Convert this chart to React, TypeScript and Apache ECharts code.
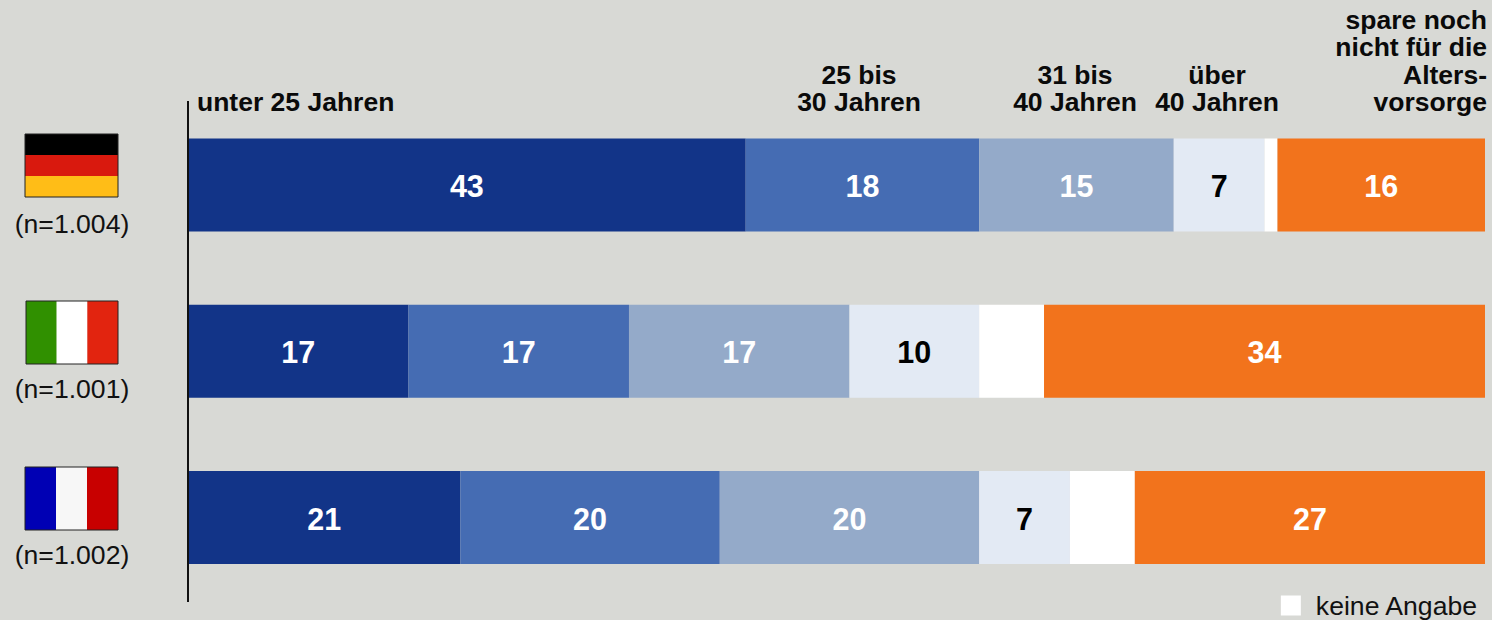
import React, { useEffect, useRef } from "react";
import * as echarts from "echarts";

const countries = ["Deutschland", "Italien", "Frankreich"];
const sampleLabels = ["(n=1.004)", "(n=1.001)", "(n=1.002)"];
const under25 = [43, 17, 21];
const from25to30 = [18, 17, 20];
const from31to40 = [15, 17, 20];
const over40 = [7, 10, 7];
const noAnswer = [1, 5, 5];
const notSaving = [16, 34, 27];

const BG = "#d8d9d5";
const FONT = "'Liberation Sans', Arial, sans-serif";

function stripesH(x: number, y: number, w: number, h: number, colors: string[]) {
  const sh = h / colors.length;
  return colors.map((c, i) => ({
    type: "rect", shape: { x, y: y + i * sh, width: w, height: sh }, style: { fill: c }, silent: true,
  }));
}
function stripesV(x: number, y: number, w: number, h: number, colors: string[]) {
  const sw = w / colors.length;
  return colors.map((c, i) => ({
    type: "rect", shape: { x: x + i * sw, y, width: sw, height: h }, style: { fill: c }, silent: true,
  }));
}
function frame(x: number, y: number, w: number, h: number) {
  return { type: "rect", shape: { x, y, width: w, height: h }, style: { fill: "none", stroke: "#222", lineWidth: 1 }, silent: true };
}
function header(text: string, x: number, y: number, align: string) {
  return {
    type: "text", x, y,
    style: { text, fill: "#0a0a0a", font: `bold 26.5px ${FONT}`, align, verticalAlign: "bottom", lineHeight: 27.5 },
    silent: true,
  };
}
function nLabel(text: string, y: number) {
  return {
    type: "text", x: 72, y,
    style: { text, fill: "#111", font: `26.6px ${FONT}`, align: "center", verticalAlign: "middle" },
    silent: true,
  };
}

function seg(name: string, data: number[], color: string, labelColor: string | null) {
  return {
    name, type: "bar", stack: "total", data, barWidth: 93,
    itemStyle: { color },
    label: labelColor
      ? { show: true, position: "inside", offset: [0, 1], color: labelColor, fontFamily: FONT, fontWeight: "bold", fontSize: 30.5 }
      : { show: false },
  };
}

export default function App() {
  const ref = useRef<HTMLDivElement>(null);
  useEffect(() => {
    document.body.style.margin = "0";
    document.body.style.background = BG;
    const chart = echarts.init(ref.current!, null, { renderer: "svg" });
    chart.setOption({
      animation: false,
      backgroundColor: BG,
      textStyle: { fontFamily: FONT },
      grid: { left: 188, right: 7, top: 101.9, height: 498.75, containLabel: false },
      xAxis: { type: "value", min: 0, max: 100, show: false },
      yAxis: {
        type: "category", inverse: true, data: countries,
        axisLine: { show: false }, axisTick: { show: false }, axisLabel: { show: false }, splitLine: { show: false },
      },
      legend: {
        data: ["keine Angabe"], right: 13.5, top: 592, icon: "rect", itemWidth: 20, itemHeight: 20, itemGap: 15, padding: 0,
        selectedMode: false,
        textStyle: { color: "#111", fontSize: 26.6, fontFamily: FONT, padding: [1, 0, 0, 10] },
      },
      series: [
        seg("unter 25 Jahren", under25, "#123488", "#ffffff"),
        seg("25 bis 30 Jahren", from25to30, "#456cb3", "#ffffff"),
        seg("31 bis 40 Jahren", from31to40, "#94aac9", "#ffffff"),
        seg("über 40 Jahren", over40, "#e3eaf4", "#000000"),
        seg("keine Angabe", noAnswer, "#ffffff", null),
        seg("spare noch nicht für die Altersvorsorge", notSaving, "#f2731c", "#ffffff"),
      ],
      graphic: [
        { type: "line", shape: { x1: 188, y1: 101, x2: 188, y2: 602 }, style: { stroke: "#111", lineWidth: 2 }, silent: true, z: 10 },
        header("unter 25 Jahren", 197, 116, "left"),
        header("25 bis\n30 Jahren", 859, 116, "center"),
        header("31 bis\n40 Jahren", 1075, 116, "center"),
        header("über\n40 Jahren", 1217, 116, "center"),
        header("spare noch\nnicht für die\nAlters-\nvorsorge", 1487, 116, "right"),
        ...stripesH(25, 134, 93, 63, ["#000000", "#d9190e", "#ffbd17"]),
        frame(25, 134, 93, 63),
        ...stripesV(26, 301, 92, 63, ["#309000", "#ffffff", "#e2240f"]),
        frame(26, 301, 92, 63),
        ...stripesV(25, 467, 93, 63, ["#0000b4", "#f7f7f7", "#c80000"]),
        frame(25, 467, 93, 63),
        nLabel(sampleLabels[0], 224),
        nLabel(sampleLabels[1], 389),
        nLabel(sampleLabels[2], 555),
      ],
    });
    return () => chart.dispose();
  }, []);
  return <div ref={ref} style={{ width: 1492, height: 620 }} />;
}
